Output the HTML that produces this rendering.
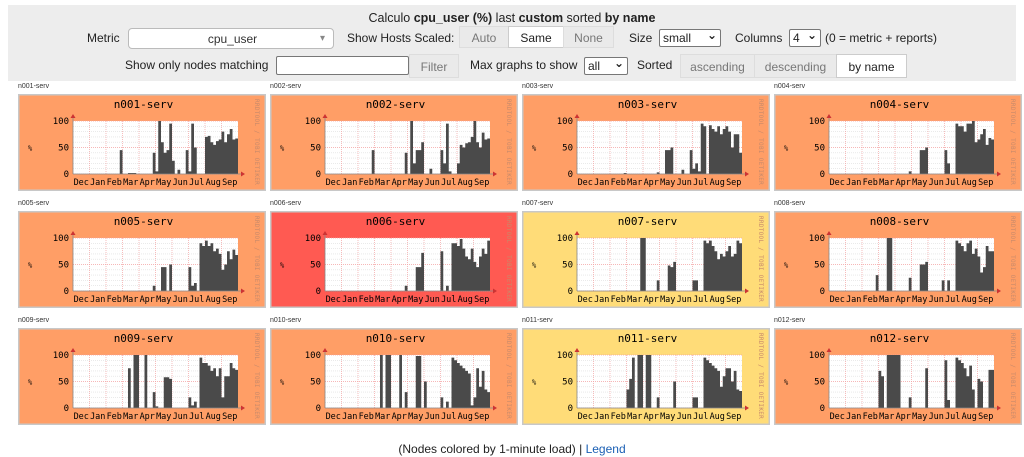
<!DOCTYPE html>
<html><head><meta charset="utf-8">
<style>
body{margin:0;width:1024px;height:457px;background:#fff;font-family:"Liberation Sans","DejaVu Sans",sans-serif;font-size:12px;color:#222;position:relative;overflow:hidden}
.abs{position:absolute;white-space:nowrap}
#hdr{position:absolute;left:8px;top:5px;width:1008px;height:76px;background:#ededed}
.btn{position:absolute;height:22px;line-height:22px;text-align:center;border:1px solid #ddd;background:#eaeaea;color:#777;box-sizing:border-box}
.btn.on{background:#fff;color:#222;border-color:#ccc}
.sel{position:absolute;height:18px;line-height:16px;border:1px solid #777;background:#fff;box-sizing:border-box;padding-left:3px;border-radius:2px}
.sel.dd:after{content:"⌄";position:absolute;right:3px;top:-3px;font-size:12px;font-weight:bold}
.sel.big:after{content:"▾";position:absolute;right:8px;top:0px;font-size:10px;color:#888}
.lbl{position:absolute;font-size:7px;color:#333}
svg text{font-family:"DejaVu Sans Mono","Liberation Mono",monospace}
</style></head><body>
<div id="hdr"></div>
<div class="abs" style="left:0;width:1024px;text-align:center;top:11px;font-size:12.5px">Calculo <b>cpu_user (%)</b> last <b>custom</b> sorted <b>by name</b></div>
<div class="abs" style="left:87px;top:31px">Metric</div>
<div class="sel big" style="left:128px;top:28px;width:206px;height:21px;line-height:20px;text-align:center;border-color:#bbb;border-radius:4px;color:#333">cpu_user</div>
<div class="abs" style="left:347px;top:31px">Show Hosts Scaled:</div>
<div class="btn" style="left:459px;top:26px;width:50px">Auto</div>
<div class="btn on" style="left:508px;top:26px;width:56px">Same</div>
<div class="btn" style="left:563px;top:26px;width:51px">None</div>
<div class="abs" style="left:629px;top:31px">Size</div>
<div class="sel dd" style="left:659px;top:29px;width:62px">small</div>
<div class="abs" style="left:735px;top:31px">Columns</div>
<div class="sel dd" style="left:789px;top:29px;width:32px">4</div>
<div class="abs" style="left:825px;top:31px">(0 = metric + reports)</div>
<div class="abs" style="left:125px;top:58px">Show only nodes matching</div>
<div class="sel" style="left:276px;top:56px;width:133px;height:19px"></div>
<div class="btn" style="left:409px;top:54px;width:50px;height:24px;line-height:24px">Filter</div>
<div class="abs" style="left:470px;top:58px">Max graphs to show</div>
<div class="sel dd" style="left:584px;top:57px;width:44px">all</div>
<div class="abs" style="left:637px;top:58px">Sorted</div>
<div class="btn" style="left:680px;top:54px;width:75px;height:24px;line-height:24px">ascending</div>
<div class="btn" style="left:754px;top:54px;width:83px;height:24px;line-height:24px">descending</div>
<div class="btn on" style="left:836px;top:54px;width:71px;height:24px;line-height:24px">by name</div>
<div id="grid"></div>
<div class="abs" style="left:0;width:1024px;text-align:center;top:442px;font-size:12px">(Nodes colored by 1-minute load) | <span style="color:#1a5fb4">Legend</span></div>
<script>
const hosts=["n001-serv","n002-serv","n003-serv","n004-serv","n005-serv","n006-serv","n007-serv","n008-serv","n009-serv","n010-serv","n011-serv","n012-serv"];
const panelColors=["#ff9e66","#ff9e66","#ff9e66","#ff9e66","#ff9e66","#ff5a52","#ffdc78","#ff9e66","#ff9e66","#ff9e66","#ffdc78","#ff9e66"];
const months=["Dec","Jan","Feb","Mar","Apr","May","Jun","Jul","Aug","Sep"];
const yTicks=[0,50,100];
function sp(pairs){const a=new Array(60).fill(0);for(const k in pairs)a[+k]=pairs[k];return a;}
const s001=sp({17:45,20:2,21:2,22:2,29:40,30:5,31:100,32:60,33:40,34:45,35:95,36:25,38:8,41:45,42:5,43:95,44:50,48:70,49:72,50:60,51:55,52:62,53:65,54:80,55:60,56:75,57:85,58:65,59:67});
const s002=sp({17:45,29:40,31:100,32:20,33:45,34:45,35:60,38:10,42:45,43:20,44:95,45:5,48:20,49:55,50:50,51:58,52:60,53:70,54:100,55:60,56:50,57:78,58:65,59:67});
const s003=sp({17:2,29:3,32:45,33:45,34:50,38:8,41:45,42:10,43:20,44:5,45:95,46:90,48:92,49:85,50:80,51:90,52:75,53:85,54:90,55:80,56:50,57:75,58:75,59:40});
const s004=sp({29:5,33:45,34:45,35:50,42:45,43:20,46:95,47:90,48:90,49:80,50:95,51:95,52:100,53:60,54:65,55:75,56:85,57:55,58:68,59:65});
const s005=sp({29:10,32:45,33:45,35:50,42:45,43:10,44:15,46:90,47:85,48:95,49:85,50:90,51:75,52:80,53:70,54:40,55:50,56:75,57:60,58:78,59:68});
const s006=sp({29:10,33:45,34:45,35:72,42:75,44:10,46:90,47:90,48:85,49:98,50:80,51:65,52:60,53:80,54:55,55:45,56:65,57:80,58:70,59:95});
const s007=sp({23:100,24:100,29:20,33:48,34:45,35:55,42:20,43:20,46:95,47:90,48:95,49:85,50:75,51:60,52:70,53:65,54:75,55:85,56:65,57:70,58:95,59:90});
const s008=sp({17:30,21:100,22:100,29:25,33:50,34:50,35:55,41:20,43:20,46:95,47:90,48:85,49:75,50:90,51:95,52:70,53:80,54:65,55:35,56:45,57:85,58:75,59:75});
const s009=sp({20:75,22:100,23:100,26:100,29:30,30:3,33:58,34:58,35:55,42:20,43:5,44:12,46:95,47:85,48:85,49:80,50:70,51:75,52:60,53:75,54:20,55:60,56:60,57:85,58:75,59:72});
const s010=sp({20:100,22:100,23:100,27:100,29:30,33:98,34:98,36:50,42:20,44:12,46:95,47:90,48:85,49:80,50:75,51:70,52:65,53:5,54:20,55:75,56:40,57:70,58:35,59:30});
const s011=sp({18:35,19:55,20:95,22:100,23:100,25:100,26:100,29:20,35:50,42:20,43:20,46:95,47:90,48:85,49:80,50:75,51:70,52:40,53:60,54:75,55:75,56:50,57:70,58:35,59:32});
const s012=sp({18:70,19:60,21:100,22:100,23:100,24:100,25:100,29:20,35:75,42:90,43:15,46:95,47:90,48:85,49:75,50:60,51:80,52:35,54:55,55:50,58:72,59:72});
const series=[s001,s002,s003,s004,s005,s006,s007,s008,s009,s010,s011,s012];

const NS="http://www.w3.org/2000/svg";
const PW=248,PH=97,L=55,T=27,W=165,H=53;
const xs=i=>L+i*W/60;
const ys=v=>T+H-v/100*H;
const grid=document.getElementById('grid');
function mk(tag,attrs,parent){const e=document.createElementNS(NS,tag);for(const k in attrs)e.setAttribute(k,attrs[k]);parent.appendChild(e);return e;}
hosts.forEach((h,idx)=>{
  const col=idx%4,row=Math.floor(idx/4);
  const px=18+col*252,py=94+row*117;
  const lab=document.createElement('div');lab.className='lbl';lab.style.left=px+'px';lab.style.top=(py-11)+'px';lab.textContent=h;
  
  
  grid.appendChild(lab);
  const svg=document.createElementNS(NS,'svg');
  svg.setAttribute('width',PW);svg.setAttribute('height',PH);
  svg.style.position='absolute';svg.style.left=px+'px';svg.style.top=py+'px';
  
  
  grid.appendChild(svg);
  mk('rect',{x:0.5,y:0.5,width:PW-1,height:PH-1,fill:panelColors[idx],stroke:'#c8c8c8','stroke-width':2},svg);
  mk('rect',{x:L,y:T,width:W,height:H,fill:'#fff'},svg);
  for(let v=10;v<100;v+=10){if(v===50)continue;mk('line',{x1:L,x2:L+W,y1:ys(v),y2:ys(v),stroke:'#ddd','stroke-width':0.6,'stroke-dasharray':'1,1'},svg);}
  yTicks.forEach(v=>mk('line',{x1:L,x2:L+W,y1:ys(v),y2:ys(v),stroke:'#f3a0a0','stroke-width':0.7,'stroke-dasharray':'1,1'},svg));
  months.forEach((m,i)=>{const x=L+(i+1)*W/10;if(i<9)mk('line',{x1:x,x2:x,y1:T,y2:T+H,stroke:'#f3a0a0','stroke-width':0.7,'stroke-dasharray':'1,1'},svg);
    const t=mk('text',{x:L+(i+0.5)*W/10,y:T+H+11,'font-size':8.5,'text-anchor':'middle',fill:'#000'},svg);t.textContent=m;
    
    });
  yTicks.forEach(v=>{const t=mk('text',{x:L-4,y:ys(v)+3,'font-size':9,'text-anchor':'end',fill:'#000'},svg);t.textContent=v;
    
    });
  const s=series[idx];let d='M'+xs(0)+','+ys(0);
  s.forEach((v,i)=>{d+=' L'+xs(i)+','+ys(v)+' L'+xs(i+1)+','+ys(v);});
  d+=' L'+xs(60)+','+ys(0)+' Z';
  const p=mk('path',{d:d,fill:'#4a4a4a'},svg);
  
  
  mk('line',{x1:L,x2:L+W+4,y1:T+H,y2:T+H,stroke:'#888','stroke-width':0.8},svg);
  mk('line',{x1:L,x2:L,y1:T-4,y2:T+H,stroke:'#888','stroke-width':0.8},svg);
  mk('path',{d:`M${L+W+3},${T+H-2.5} L${L+W+7},${T+H} L${L+W+3},${T+H+2.5}Z`,fill:'#c33'},svg);
  mk('path',{d:`M${L-2.5},${T-3} L${L},${T-7} L${L+2.5},${T-3}Z`,fill:'#c33'},svg);
  const ti=mk('text',{x:L+W/2-12,y:14,'font-size':11,'text-anchor':'middle',fill:'#000'},svg);ti.textContent=h;
  
  
  const pc=mk('text',{x:10,y:T+H/2+3,'font-size':7,fill:'#000'},svg);pc.textContent='%';
  
  
  const rr=mk('text',{x:0,y:0,'font-size':6,'letter-spacing':'0.3',fill:'#c88a6a',transform:`translate(${PW-11},5) rotate(90)`},svg);rr.textContent='RRDTOOL / TOBI OETIKER';
  
  
});
</script>
</body></html>
